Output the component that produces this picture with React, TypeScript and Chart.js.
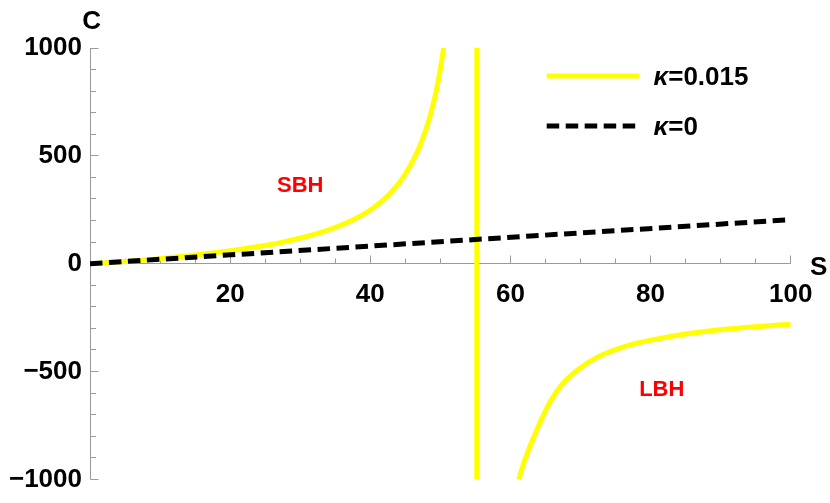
import React, { useEffect, useRef } from 'react';
import { Chart, registerables } from 'chart.js';
Chart.register(...registerables);

// Small black hole branch (κ = 0.015)
const sbhS = [1.5, 5, 10, 15, 20, 25, 27.5, 30, 32.5, 35, 37.5, 40, 42, 44, 45, 46, 47, 48, 48.5, 49, 49.5, 50, 50.47];
const sbhC = [3, 10.5, 23, 40, 60, 84, 100, 119, 141, 168, 203, 249, 299, 369, 416, 472, 540, 628, 681, 744, 815, 902, 1000];
// Vertical connector across the pole
const poleS = [55.2, 55.2];
const poleC = [1000, -1000];
// Large black hole branch (κ = 0.015)
const lbhS = [61.2, 62, 63, 64, 65, 66, 67.5, 70, 72.5, 75, 77.5, 80, 85, 90, 95, 100];
const lbhC = [-1000, -915, -830, -752, -682, -622, -555, -482, -432, -398, -373, -355, -326, -306, -292, -281];
// κ = 0
const k0S = [0, 100];
const k0C = [0, 204];

const xTickValues = [20, 40, 60, 80, 100];
const yTickValues = [-1000, -500, 0, 500, 1000];
const legendKappas = ['0.015', '0'];
const regionLabels = ['SBH', 'LBH'];
const regionS = [30, 81.6];
const regionC = [370, -578];

const FONT = "'Liberation Sans', Arial, sans-serif";
const YELLOW = '#FFFF00';
const LW = 5;

const pts = (xs: number[], ys: number[]) => xs.map((x, i) => ({ x, y: ys[i] }));

const decor = {
  id: 'decor',
  beforeDatasetsDraw(chart: any) {
    const { ctx } = chart;
    const xs = chart.scales.x;
    const ys = chart.scales.y;
    const x0 = Math.floor(xs.getPixelForValue(0)) + 0.5;
    const y0 = Math.floor(ys.getPixelForValue(0)) + 0.5;
    ctx.save();
    ctx.strokeStyle = '#9a9a9a';
    ctx.lineWidth = 1;
    ctx.beginPath();
    ctx.moveTo(x0, ys.getPixelForValue(1000));
    ctx.lineTo(x0, ys.getPixelForValue(-1000));
    ctx.moveTo(x0, y0);
    ctx.lineTo(xs.getPixelForValue(100), y0);
    for (let v = -1000; v <= 1000; v += 100) {
      const len = v % 500 === 0 ? 8 : 5.5;
      const y = Math.floor(ys.getPixelForValue(v)) + 0.5;
      ctx.moveTo(x0, y);
      ctx.lineTo(x0 + len, y);
    }
    for (let v = 5; v <= 100; v += 5) {
      const len = v % 20 === 0 ? 8 : 5;
      const x = Math.floor(xs.getPixelForValue(v)) + 0.5;
      ctx.moveTo(x, y0);
      ctx.lineTo(x, y0 - len);
    }
    ctx.stroke();
    ctx.restore();
  },
  afterDatasetsDraw(chart: any) {
    const { ctx } = chart;
    const xs = chart.scales.x;
    const ys = chart.scales.y;
    ctx.save();
    // legend
    const lx0 = 546.7;
    const ly = [76, 126];
    ctx.lineWidth = LW;
    ctx.lineCap = 'butt';
    ctx.strokeStyle = YELLOW;
    ctx.beginPath();
    ctx.moveTo(lx0, ly[0]);
    ctx.lineTo(639.3, ly[0]);
    ctx.stroke();
    ctx.strokeStyle = '#000';
    ctx.setLineDash([12.5, 6.5]);
    ctx.beginPath();
    ctx.moveTo(lx0, ly[1]);
    ctx.lineTo(635.2, ly[1]);
    ctx.stroke();
    ctx.setLineDash([]);
    ctx.fillStyle = '#000';
    ctx.textBaseline = 'alphabetic';
    ctx.textAlign = 'left';
    legendKappas.forEach((k, i) => {
      const base = ly[i] + 9.3;
      ctx.font = `italic bold 26px ${FONT}`;
      ctx.fillText('κ', 653.5, base);
      const w = ctx.measureText('κ').width;
      ctx.font = `bold 26px ${FONT}`;
      ctx.fillText('=' + k, 653.5 + w, base);
    });
    // region labels
    ctx.fillStyle = '#FF0000';
    ctx.font = `bold 22px ${FONT}`;
    ctx.textAlign = 'center';
    regionLabels.forEach((t, i) => {
      ctx.fillText(t, xs.getPixelForValue(regionS[i]), ys.getPixelForValue(regionC[i]) + 7.9);
    });
    // axis titles
    ctx.fillStyle = '#000';
    ctx.font = `bold 26px ${FONT}`;
    ctx.fillText('C', xs.getPixelForValue(0) + 1.7, 28.6);
    ctx.fillText('S', xs.getPixelForValue(100) + 28, ys.getPixelForValue(0) + 11.3);
    ctx.restore();
  },
};

export default function App() {
  const ref = useRef<HTMLCanvasElement | null>(null);
  useEffect(() => {
    document.body.style.margin = '0';
    const canvas = ref.current!;
    const chart = new Chart(canvas, {
      type: 'line',
      data: {
        datasets: [
          {
            label: 'κ=0',
            data: pts(k0S, k0C),
            borderColor: '#000',
            borderWidth: LW,
            borderDash: [12.5, 6.5],
            pointRadius: 0,
            fill: false,
          },
          {
            label: 'κ=0.015',
            data: pts(sbhS, sbhC),
            borderColor: YELLOW,
            borderWidth: LW,
            pointRadius: 0,
            cubicInterpolationMode: 'monotone',
            fill: false,
          },
          {
            label: 'pole',
            data: pts(poleS, poleC),
            borderColor: YELLOW,
            borderWidth: LW,
            pointRadius: 0,
            fill: false,
          },
          {
            label: 'κ=0.015 LBH',
            data: pts(lbhS, lbhC),
            borderColor: YELLOW,
            borderWidth: LW,
            pointRadius: 0,
            cubicInterpolationMode: 'monotone',
            fill: false,
          },
        ],
      },
      options: {
        animation: false,
        responsive: false,
        events: [],
        layout: { padding: { top: 48, bottom: 21.3, left: 0, right: 39.3 } },
        plugins: { legend: { display: false }, tooltip: { enabled: false } },
        scales: {
          x: {
            type: 'linear',
            min: 0,
            max: 100,
            position: { y: 0 },
            grid: { display: false, drawTicks: false },
            border: { display: false },
            afterBuildTicks: (scale: any) => {
              scale.ticks = xTickValues.map((v) => ({ value: v }));
            },
            ticks: {
              padding: 16,
              maxRotation: 0,
              autoSkip: false,
              color: '#000',
              font: { family: FONT, size: 26, weight: 'bold' },
            },
          },
          y: {
            type: 'linear',
            min: -1000,
            max: 1000,
            position: 'left',
            grid: { display: false, drawTicks: false },
            border: { display: false },
            afterFit: (scale: any) => {
              scale.width = 90;
            },
            afterBuildTicks: (scale: any) => {
              scale.ticks = yTickValues.map((v) => ({ value: v }));
            },
            ticks: {
              padding: 8,
              autoSkip: false,
              color: '#000',
              font: { family: FONT, size: 26, weight: 'bold' },
              callback: (v: any) => (Number(v) < 0 ? '\u2212' + Math.abs(Number(v)) : String(v)),
            },
          },
        },
      },
      plugins: [decor],
    } as any);
    return () => chart.destroy();
  }, []);
  return (
    <div style={{ width: 830, height: 503 }}>
      <canvas ref={ref} width={830} height={503} style={{ display: 'block' }} />
    </div>
  );
}
